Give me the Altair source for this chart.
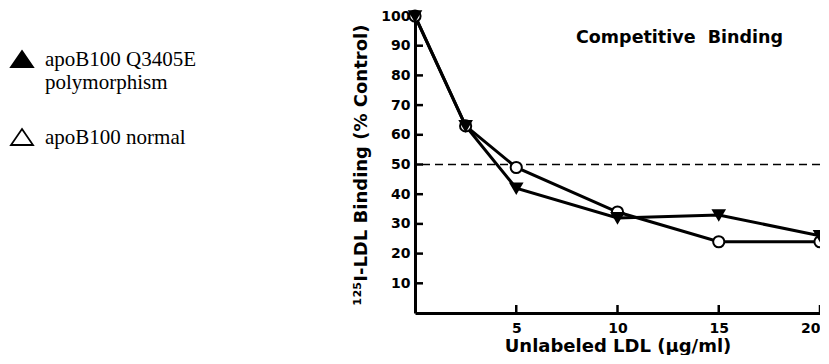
import altair as alt
import pandas as pd

# ---- data ----
conc = [0, 2.5, 5, 10, 15, 20]
poly_vals = [100, 63, 42, 32, 33, 26]
normal_vals = [100, 63, 49, 34, 24, 24]
series_names = ["apoB100 Q3405E polymorphism", "apoB100 normal"]
legend_names = ["apoB100 Q3405E|polymorphism", "apoB100 normal"]
ref_line = [50]
x_ticks = [5, 10, 15, 20]
y_ticks = [10, 20, 30, 40, 50, 60, 70, 80, 90, 100]

rows = []
for c, v in zip(conc, poly_vals):
    rows.append({"conc": c, "binding": v, "series": series_names[0],
                 "legend": legend_names[0]})
for c, v in zip(conc, normal_vals):
    rows.append({"conc": c, "binding": v, "series": series_names[1],
                 "legend": legend_names[1]})
df = pd.DataFrame(rows)

xscale = alt.Scale(domain=[0, 20], nice=False, zero=True)
yscale = alt.Scale(domain=[0, 100], nice=False)

x_axis = alt.Axis(values=x_ticks, ticks=False, grid=False, labelOverlap=False,
                  title="Unlabeled LDL (µg/ml)", labelPadding=8, titlePadding=2)
y_axis = alt.Axis(values=y_ticks, ticks=False, grid=False, labelOverlap=False,
                  title="¹²⁵I-LDL Binding (% Control)", labelPadding=5,
                  titlePadding=10)

lines = alt.Chart(df).mark_line(color="black", strokeWidth=3).encode(
    x=alt.X("conc:Q", scale=xscale, axis=x_axis),
    y=alt.Y("binding:Q", scale=yscale, axis=y_axis),
    detail="series:N")

# triangle symbol path (unit coords), drawn a little low so that it lines up
# with the first line of each top-aligned label
tri_path = "M0,0.2L1.1,1.8L-1.1,1.8Z"

points = alt.Chart(df).mark_point(filled=True, stroke="black", strokeWidth=2,
                                  opacity=1, size=125).encode(
    x=alt.X("conc:Q", scale=xscale, axis=x_axis),
    y=alt.Y("binding:Q", scale=yscale, axis=y_axis),
    shape=alt.Shape("series:N", scale=alt.Scale(domain=series_names,
                                                range=["triangle-down", "circle"]),
                    legend=None),
    fill=alt.Fill("legend:N", scale=alt.Scale(domain=legend_names,
                                              range=["black", "white"]),
                  legend=alt.Legend(orient="none", legendX=-404, legendY=22,
                                    title=None, symbolType=tri_path,
                                    symbolSize=400, symbolStrokeColor="black",
                                    symbolStrokeWidth=1.8,
                                    labelFont="Liberation Serif", labelFontSize=21,
                                    labelColor="black", labelBaseline="top",
                                    labelExpr="split(datum.label, '|')",
                                    labelOffset=12,
                                    rowPadding=23, labelLimit=300)),
    order=alt.Order("series:N", sort="descending"),
)

ref_df = pd.DataFrame({"binding": ref_line})
ref = alt.Chart(ref_df).mark_rule(color="black", strokeWidth=1.5,
                                  strokeDash=[8, 5]).encode(
    y=alt.Y("binding:Q", scale=yscale, axis=y_axis))

ytick_df = pd.DataFrame({"binding": y_ticks[:-1]})
yticks = alt.Chart(ytick_df).mark_rule(color="black", strokeWidth=2.5).encode(
    y=alt.Y("binding:Q", scale=yscale, axis=y_axis),
    x=alt.value(0), x2=alt.value(8))

xtick_df = pd.DataFrame({"conc": x_ticks})
xticks = alt.Chart(xtick_df).mark_rule(color="black", strokeWidth=2.5).encode(
    x=alt.X("conc:Q", scale=xscale, axis=x_axis),
    y=alt.value(297), y2=alt.value(289))

chart = alt.layer(lines, ref, points, yticks, xticks).properties(
    width=405, height=297,
    autosize="none",
    padding={"left": 407, "top": 8, "right": 0, "bottom": 42},
    title=alt.Title("Competitive\u00a0 Binding", font="DejaVu Sans", fontSize=17.5,
                    fontWeight="bold", color="black", anchor="middle",
                    dx=62, dy=40, offset=0),
).configure_view(stroke=None).configure_axis(
    domainColor="black", domainWidth=3,
    labelFont="DejaVu Sans", labelFontWeight="bold", labelFontSize=14,
    labelColor="black",
    titleFont="DejaVu Sans", titleFontWeight="bold", titleFontSize=18,
    titleColor="black",
)

chart.save("out.html", embed_options={"renderer": "svg", "actions": False})
